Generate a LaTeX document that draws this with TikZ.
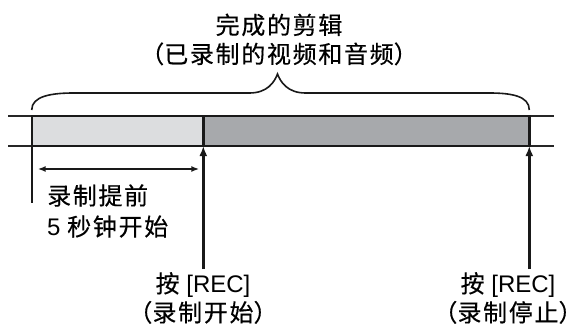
\documentclass[tikz,border=0pt]{standalone}
\usepackage{fontspec}
\setmainfont{Liberation Sans}
\newfontfamily\cjk[LetterSpace=7, FakeBold=0.4]{Noto Sans CJK SC}
\usetikzlibrary{calc, arrows.meta}
\definecolor{barlight}{RGB}{220,221,223}
\definecolor{bardark}{RGB}{167,169,172}
\newcommand{\openp}{\makebox[0.6em][r]{（}}
\newcommand{\closep}{\makebox[0.6em][l]{）}}
\tikzset{
    seg/.style={draw=black!90, line width=2.4pt, anchor=north west, inner sep=0pt, outer sep=0pt, minimum height=30pt},
    guide/.style={draw=black!85, line width=1.1pt},
    curly/.style={draw=black!90, line width=1.6pt},
    tick/.style={draw=black!90, line width=1.6pt},
    press/.style={draw=black!90, line width=2.6pt, -{Latex[length=10pt, width=8pt]}},
    span/.style={draw=black!90, line width=1.8pt, {Latex[length=8pt, width=6pt]}-{Latex[length=8pt, width=6pt]}},
    label/.style={font=\fontsize{24}{29}\selectfont, align=center, inner sep=0pt},
    common settings/.style={x=1pt, y=-1pt}
}

\begin{document}
\begin{tikzpicture}[common settings]
    \useasboundingbox (0,0) rectangle (584,324);

    % Configuration
    \def\barY{116}     % top edge of the strip
    \def\barH{30}      % strip height
    \def\xA{31.7}      % clip start (5 s before)
    \def\xB{203.3}     % REC pressed
    \def\xC{529.3}     % REC pressed again

    % 1. Thin guide lines through the strip
    \draw[guide] (8,\barY) -- (554,\barY);
    \draw[guide] (8,\barY+\barH) -- (554,\barY+\barH);

    % 2. The clip strip
    \node[seg, fill=barlight, minimum width=\xB-\xA] (pre) at (\xA,\barY) {};
    \node[seg, fill=bardark, minimum width=\xC-\xB] (rec) at (pre.north east) {};

    % 3. Brace over the whole clip
    \coordinate (tip) at ($(pre.north west)!0.5!(rec.north east)+(-3,-42)$);
    \draw[curly] ($(pre.north west)+(0,-6)$) .. controls +(0,-14) and +(-22,0) .. ($(pre.north west)+(42,-23)$)
        -- ($(tip)+(-28,19)$) .. controls +(18,0) and +(-3,8) .. (tip)
        .. controls +(3,8) and +(-18,0) .. ($(tip)+(28,19)$)
        -- ($(rec.north east)+(-40,-23)$) .. controls +(22,0) and +(0,-14) .. ($(rec.north east)+(0,-6)$);

    % 4. Labels
    \node[label] (title) at (279,39.5) {{\cjk 完成的剪辑}\\{\cjk \openp 已录制的视频和音频\closep}};
    \node[label, align=left, anchor=west, font=\fontsize{24}{31}\selectfont] (lead) at (47,211) {{\cjk 录制提前}\\5 {\cjk 秒钟开始}};
    \node[label] (startlbl) at (203,298) {{\cjk 按} [REC]\\{\cjk \openp 录制开始\closep}};
    \node[label] (stoplbl) at (508,298) {{\cjk 按} [REC]\\{\cjk \openp 录制停止\closep}};

    % 5. Pre-record span and REC presses
    \coordinate (tickend) at ($(pre.south west)+(0,57)$);
    \draw[tick] (pre.south west) -- (tickend);
    \draw[span] ($(pre.south west)+(6,23)$) -- ($(pre.south east)+(-4,23)$);
    \draw[press] ([yshift=3pt]startlbl.north -| pre.south east) -- (pre.south east);
    \draw[press] ([yshift=3pt]stoplbl.north -| rec.south east) -- (rec.south east);

\end{tikzpicture}
\end{document}
